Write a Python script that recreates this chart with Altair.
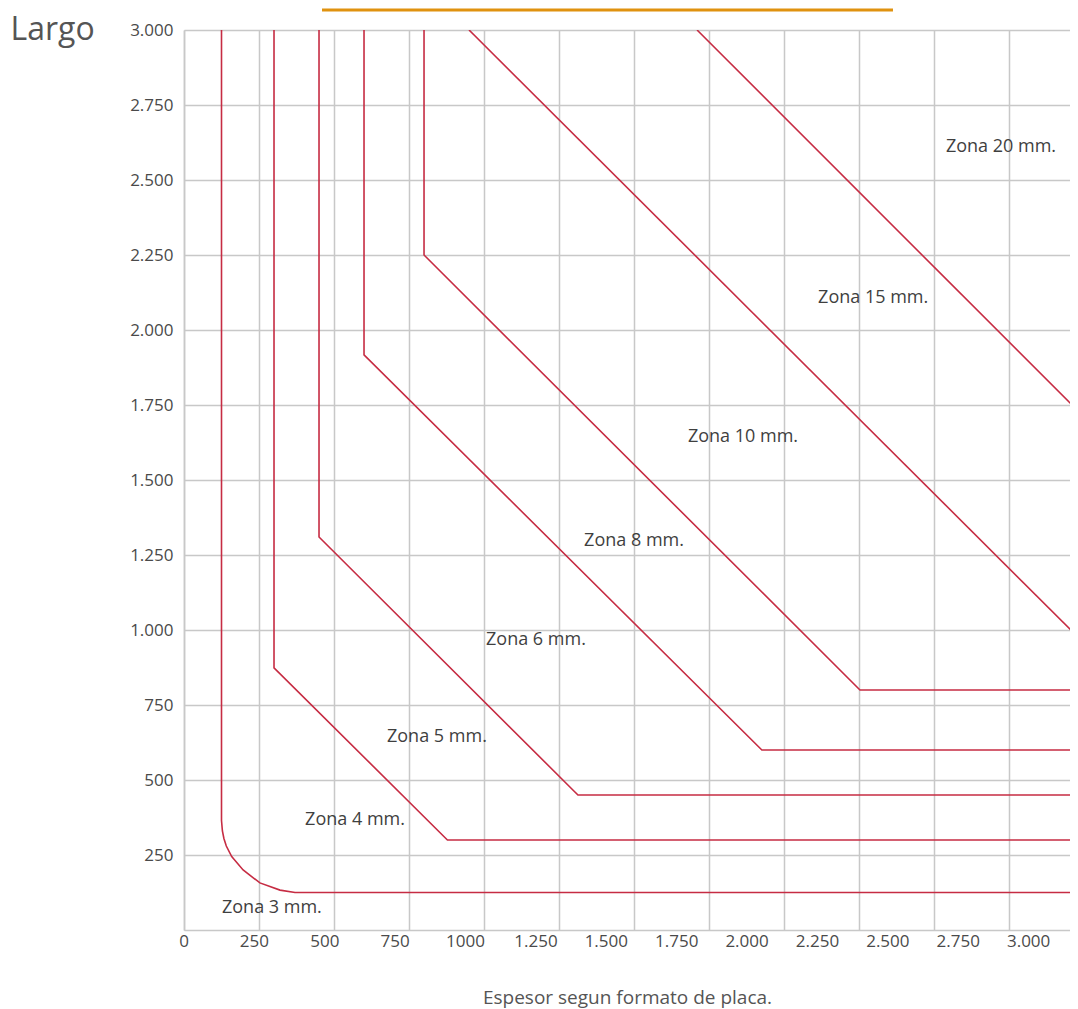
import altair as alt
import pandas as pd

# ---------------- data ----------------
Z3_X = [125, 125, 128, 133, 141, 159, 197, 253, 320, 370, 3000]
Z3_Y = [3000, 365, 330, 305, 280, 245, 200, 157, 133, 125, 125]
Z4_X = [300, 300, 878, 3000]
Z4_Y = [3000, 874, 300, 300]
Z5_X = [450, 450, 1313, 3000]
Z5_Y = [3000, 1310, 450, 450]
Z6_X = [600, 600, 1926, 3000]
Z6_Y = [3000, 1917, 600, 600]
Z8_X = [800, 800, 2253, 3000]
Z8_Y = [3000, 2250, 800, 800]
Z10_X = [950, 3000]
Z10_Y = [3000, 956]
Z15_X = [1710, 3000]
Z15_Y = [3000, 1710]

ZONE_LABELS = ["Zona 3 mm.", "Zona 4 mm.", "Zona 5 mm.", "Zona 6 mm.",
               "Zona 8 mm.", "Zona 10 mm.", "Zona 15 mm.", "Zona 20 mm."]
LABEL_X = [293, 570, 843, 1173, 1500, 1863, 2297, 2723]
LABEL_Y = [73, 367, 643, 967, 1297, 1643, 2107, 2610]

X_GRID = [0, 250, 500, 750, 1000, 1250, 1500, 1750, 2000, 2250, 2500, 2750]
X_TICK_VALUES = [0, 250, 500, 750, 1000, 1250, 1500, 1750, 2000, 2250, 2500, 2750, 3000]
X_TICK_LABELS = ["0", "250", "500", "750", "1000", "1.250", "1.500", "1.750",
                 "2.000", "2.250", "2.500", "2.750", "3.000"]
Y_TICK_VALUES = [250, 500, 750, 1000, 1250, 1500, 1750, 2000, 2250, 2500, 2750, 3000]
Y_TICK_LABELS = ["250", "500", "750", "1.000", "1.250", "1.500", "1.750", "2.000",
                 "2.250", "2.500", "2.750", "3.000"]

TOP_BAR_X = [460]
TOP_BAR_X2 = [2363]

# ---------------- build tables ----------------
series = [("Z3", Z3_X, Z3_Y), ("Z4", Z4_X, Z4_Y), ("Z5", Z5_X, Z5_Y),
          ("Z6", Z6_X, Z6_Y), ("Z8", Z8_X, Z8_Y), ("Z10", Z10_X, Z10_Y),
          ("Z15", Z15_X, Z15_Y)]
rows = []
for name, xs, ys in series:
    for i, (x, y) in enumerate(zip(xs, ys)):
        rows.append({"zona": name, "x": x, "y": y, "order": i})
lines_df = pd.DataFrame(rows)
labels_df = pd.DataFrame({"label": ZONE_LABELS, "x": LABEL_X, "y": LABEL_Y})
xlab_df = pd.DataFrame({"v": X_TICK_VALUES, "label": X_TICK_LABELS})
bar_df = pd.DataFrame({"x": TOP_BAR_X, "x2": TOP_BAR_X2})

y_label_expr = " : ".join(
    f"datum.value == {v} ? '{t}'" for v, t in zip(Y_TICK_VALUES, Y_TICK_LABELS)
) + " : ''"

W, H = 886, 900
X_MAX = 2953
LABEL_SCALE_MAX = 3147
FONT = "Open Sans"
RED = "#c62c43"
GRID = "#c8c8c8"

x_scale = alt.Scale(domain=[0, X_MAX], nice=False, zero=False)
y_scale = alt.Scale(domain=[0, 3000], nice=False)

y_axis = alt.Axis(values=Y_TICK_VALUES, labelExpr=y_label_expr, ticks=False,
                  labelPadding=11, labelFont=FONT, labelFontSize=17,
                  labelColor="#4a4a4a", grid=True, gridColor=GRID, gridWidth=1.5,
                  domainColor=GRID, domainWidth=1.5,
                  title="Largo", titleAngle=0, titleAlign="left",
                  titleBaseline="middle", titleX=-174, titleY=-1,
                  titleFont=FONT, titleFontSize=32, titleFontWeight="normal",
                  titleColor="#555555")

lines = alt.Chart(lines_df).mark_line(color=RED, strokeWidth=1.6, clip=True).encode(
    x=alt.X("x:Q", scale=x_scale,
            axis=alt.Axis(values=X_GRID, labels=False, ticks=False, grid=True,
                          gridColor=GRID, gridWidth=1.5, domainColor=GRID, domainWidth=1.5,
                          title="Espesor segun formato de placa.", titleFont=FONT,
                          titleFontSize=19, titleFontWeight="normal", titleColor="#555555",
                          titleY=67, titleBaseline="middle")),
    y=alt.Y("y:Q", scale=y_scale, axis=y_axis),
    detail="zona:N",
    order="order:Q",
)

zone_text = alt.Chart(labels_df).mark_text(
    font=FONT, fontSize=18, color="#3f3f3f", align="center", baseline="middle"
).encode(
    x=alt.X("x:Q", scale=x_scale, axis=None),
    y=alt.Y("y:Q", scale=y_scale, axis=y_axis),
    text="label:N",
)

x_labels = alt.Chart(xlab_df).mark_text(
    font=FONT, fontSize=17, color="#4a4a4a", align="center", baseline="middle"
).encode(
    x=alt.X("v:Q", scale=alt.Scale(domain=[0, LABEL_SCALE_MAX], nice=False, zero=False), axis=None),
    y=alt.value(H + 12),
    text="label:N",
)

top_bar = alt.Chart(bar_df).mark_rule(color="#e0920f", strokeWidth=3, clip=False).encode(
    x=alt.X("x:Q", scale=x_scale, axis=None),
    x2="x2:Q",
    y=alt.value(-20),
)

chart = alt.layer(lines, zone_text, x_labels, top_bar).resolve_scale(
    x="independent"
).properties(
    width=W, height=H,
    autosize=alt.AutoSizeParams(type="none"),
    padding={"left": 176, "top": 22, "right": 0, "bottom": 79},
).configure_view(stroke=None)

chart.save("out.html", embed_options={"renderer": "svg", "actions": False})
